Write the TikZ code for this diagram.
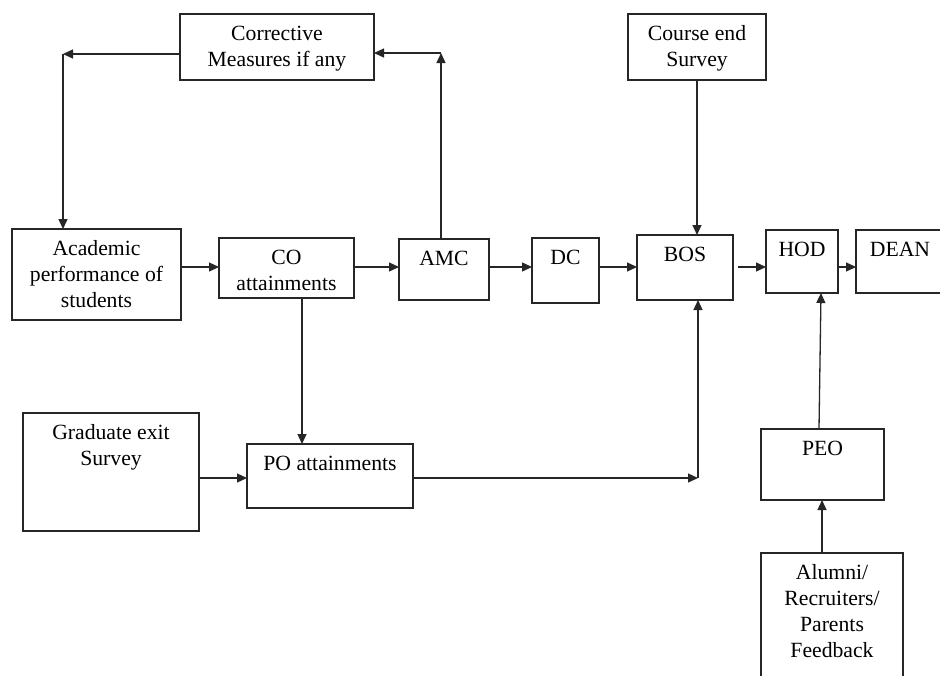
\documentclass[tikz,border=0pt]{standalone}
\usepackage{fontspec}
\setmainfont{Liberation Serif}
\usetikzlibrary{arrows.meta}
\tikzset{
  box/.style={draw=black!85, line width=1.3pt, rectangle, inner sep=0pt, outer sep=0pt},
  txt/.style={align=center, inner sep=0pt, outer sep=0pt, anchor=north,
              font=\fontsize{21.7}{26}\selectfont, text=black},
  arr/.style={draw=black!85, line width=1.3pt, -{Triangle[length=10pt,width=9pt]}},
}
\newcommand{\bx}[6]{%
  \node[box, minimum width=#4pt, minimum height=#5pt] (#1) at (#2,#3) {};
  \node[txt] (#1-t) at ([yshift=-11pt]#1.north) {\rule{0pt}{15pt}#6};
}
\begin{document}
\begin{tikzpicture}[x=1pt,y=-1pt]
\useasboundingbox (0,0) rectangle (940,675);
\clip (0,0) rectangle (940,675);
\fill[white] (0,0) rectangle (940,675);
% boxes: name, cx, cy, w, h, text
\bx{cor}{277}{47}{194}{66}{Corrective\\Measures if any}
\bx{ces}{697}{47}{138}{66}{Course end\\Survey}
\bx{aca}{96.5}{274.5}{169}{91}{Academic\\performance of\\students}
\bx{co}{286.5}{268}{135}{60}{CO\\attainments}
\bx{amc}{444}{269.5}{90}{61}{AMC}
\bx{dc}{565.5}{270.5}{67}{65}{DC}
\bx{bos}{685}{267.5}{96}{65}{BOS}
\bx{hod}{802}{261.5}{72}{63}{HOD}
\bx{dean}{900}{261.5}{88}{63}{DEAN}
\bx{gra}{111}{472}{176}{118}{Graduate exit\\Survey}
\bx{po}{330}{476}{166}{64}{PO attainments}
\bx{peo}{822.5}{464.5}{123}{71}{PEO}
\bx{alu}{832}{621.5}{142}{137}{Alumni/\\Recruiters/\\Parents\\Feedback}
% helper coordinates
\coordinate (c1) at (441,53);
\coordinate (c2) at (63,54);
\coordinate (c3) at (698,478);
\coordinate (yh) at (0,267);
\coordinate (yp) at (0,478);
\coordinate (cx) at (302,0);
\coordinate (cp) at (822,0);
\coordinate (ph1) at (819,0);
\coordinate (ph2) at (821,0);
% feedback loop
\draw[arr] (c1 |- amc.north) -- (c1);
\draw[arr] (c1) -- (c1 -| cor.east);
\draw[arr] (c2 -| cor.west) -- (c2);
\draw[arr] (c2) -- (c2 |- aca.north);
% main row
\draw[arr] (aca.east |- yh) -- (co.west |- yh);
\draw[arr] (co.east |- yh) -- (amc.west |- yh);
\draw[arr] (amc.east |- yh) -- (dc.west |- yh);
\draw[arr] (dc.east |- yh) -- (bos.west |- yh);
\draw[arr, shorten <=5pt] (bos.east |- yh) -- (hod.west |- yh);
\draw[arr] (hod.east |- yh) -- (dean.west |- yh);
% verticals
\draw[arr] (ces.south) -- (ces.south |- bos.north);
\draw[arr] (cx |- co.south) -- (cx |- po.north);
\draw[arr] (gra.east |- yp) -- (po.west |- yp);
\draw[arr] (po.east |- yp) -- (c3);
\draw[arr] (c3) -- (c3 |- bos.south);
\draw[arr] (cp |- alu.north) -- (cp |- peo.south);
\draw[arr] (ph1 |- peo.north) -- (ph2 |- hod.south);
\end{tikzpicture}
\end{document}
